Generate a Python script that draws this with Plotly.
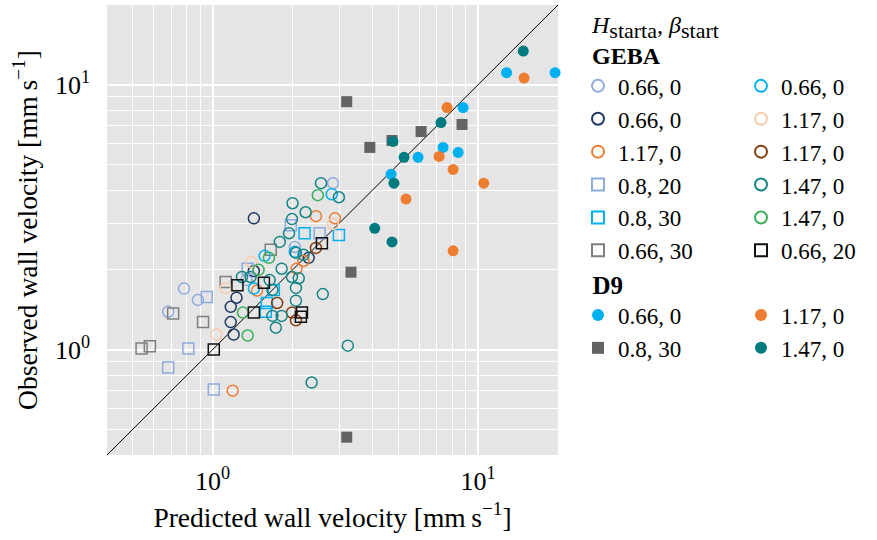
import numpy as np
import plotly.graph_objects as go

FONT = "Liberation Serif"

# ---- GEBA runs (open markers): predicted vs observed wall velocity [mm/s] ----
geba_066_a_x = [0.68, 0.78, 0.88, 1.34, 2.04, 2.84]
geba_066_a_y = [1.39, 1.70, 1.54, 1.83, 2.44, 4.25]

geba_066_b_x = [1.43, 2.30, 1.43, 1.23, 1.17, 1.17, 1.20]
geba_066_b_y = [3.13, 2.22, 1.98, 1.57, 1.45, 1.27, 1.14]

geba_117_a_x = [2.45, 2.89, 2.07, 1.47, 1.19, 2.20]
geba_117_a_y = [3.19, 3.13, 2.02, 1.67, 0.70, 2.16]

geba_08_20_x = [1.97, 2.53, 1.355, 0.95, 0.81, 0.68, 1.01]
geba_08_20_y = [2.95, 2.75, 2.02, 1.58, 1.01, 0.855, 0.707]

geba_08_30_x = [2.22, 2.99, 1.70, 1.60, 1.585]
geba_08_30_y = [2.75, 2.71, 1.68, 1.50, 1.39]

geba_066_30_x = [1.655, 1.12, 0.71, 0.92, 0.54, 0.58]
geba_066_30_y = [2.38, 1.80, 1.37, 1.27, 1.01, 1.03]

geba_066_c_x = [2.81, 1.57, 1.43, 2.04]
geba_066_c_y = [3.86, 2.26, 1.70, 2.34]

geba_117_b_x = [2.84, 1.12, 1.40, 1.035]
geba_117_b_y = [2.98, 1.71, 2.14, 1.14]

geba_117_c_x = [2.45, 1.99, 2.06, 1.75]
geba_117_c_y = [2.42, 1.38, 1.29, 1.50]

geba_147_a_x = [2.56, 2.99, 2.00, 2.24, 1.99, 1.94, 1.79, 2.06, 2.20, 1.82, 1.99, 2.11,
                1.29, 1.39, 1.64, 1.68, 2.06, 2.06, 1.68, 1.82, 1.73, 2.60, 3.23, 2.36]
geba_147_a_y = [4.25, 3.76, 3.57, 3.30, 3.11, 2.75, 2.55, 2.32, 2.28, 2.02, 1.88, 1.86,
                1.88, 1.88, 1.83, 1.68, 1.71, 1.53, 1.34, 1.34, 1.21, 1.62, 1.035, 0.751]

geba_147_b_x = [2.49, 1.63, 1.49, 1.30, 1.355]
geba_147_b_y = [3.83, 2.22, 2.00, 1.38, 1.13]

geba_066_20_x = [2.58, 1.24, 1.56, 1.43, 2.17, 2.15, 1.01]
geba_066_20_y = [2.52, 1.75, 1.79, 1.38, 1.38, 1.33, 1.00]

# ---- D9 runs (filled markers) ----
d9_066_x = [12.8, 19.5, 8.78, 7.38, 8.41, 5.94, 4.70]
d9_066_y = [11.1, 11.1, 8.20, 5.80, 5.55, 5.32, 4.59]

d9_117_x = [14.9, 7.64, 7.13, 8.05, 10.5, 5.35, 8.05]
d9_117_y = [10.6, 8.20, 5.36, 4.79, 4.25, 3.70, 2.36]

d9_08_30_x = [3.20, 8.70, 6.10, 4.74, 3.91, 3.32, 3.20]
d9_08_30_y = [8.63, 7.08, 6.66, 6.16, 5.80, 1.96, 0.467]

d9_147_x = [14.8, 7.25, 4.78, 5.26, 4.82, 4.08, 4.74]
d9_147_y = [13.4, 7.20, 6.11, 5.32, 4.25, 2.87, 2.55]

# axis limits (also used for the 1:1 line) and decade tick labels
axis_lim = [0.4, 20]
tick_vals = [1, 10]
tick_text = ["10<sup>0</sup>", "10<sup>1</sup>"]

fig = go.Figure()

fig.add_trace(go.Scatter(x=axis_lim, y=axis_lim, mode="lines",
                         line=dict(color="black", width=1), showlegend=False,
                         hoverinfo="skip"))


def add_series(x, y, label, symbol, color, legend, rank, filled=False):
    if filled:
        marker = dict(symbol=symbol, color=color, size=11, line=dict(width=0))
    else:
        marker = dict(symbol=symbol + "-open", color=color, size=11, line=dict(width=1.5))
    fig.add_trace(go.Scatter(x=x, y=y, mode="markers", name=label,
                             marker=marker, legend=legend, legendrank=rank,
                             cliponaxis=False))


# GEBA (row-major ranks give the two-column legend layout)
add_series(geba_066_a_x, geba_066_a_y, "0.66, 0", "circle", "#8FAADC", "legend", 1)
add_series(geba_066_b_x, geba_066_b_y, "0.66, 0", "circle", "#1F3864", "legend", 3)
add_series(geba_117_a_x, geba_117_a_y, "1.17, 0", "circle", "#ED7D31", "legend", 5)
add_series(geba_08_20_x, geba_08_20_y, "0.8, 20", "square", "#8FAADC", "legend", 7)
add_series(geba_08_30_x, geba_08_30_y, "0.8, 30", "square", "#00B0F0", "legend", 9)
add_series(geba_066_30_x, geba_066_30_y, "0.66, 30", "square", "#7F7F7F", "legend", 11)
add_series(geba_066_c_x, geba_066_c_y, "0.66, 0", "circle", "#00B0F0", "legend", 2)
add_series(geba_117_b_x, geba_117_b_y, "1.17, 0", "circle", "#F8CBAD", "legend", 4)
add_series(geba_117_c_x, geba_117_c_y, "1.17, 0", "circle", "#843C0C", "legend", 6)
add_series(geba_147_a_x, geba_147_a_y, "1.47, 0", "circle", "#168585", "legend", 8)
add_series(geba_147_b_x, geba_147_b_y, "1.47, 0", "circle", "#3BAF5A", "legend", 10)
add_series(geba_066_20_x, geba_066_20_y, "0.66, 20", "square", "#111111", "legend", 12)

# D9
add_series(d9_066_x, d9_066_y, "0.66, 0", "circle", "#00B0F0", "legend2", 1, True)
add_series(d9_117_x, d9_117_y, "1.17, 0", "circle", "#ED7D31", "legend2", 2, True)
add_series(d9_08_30_x, d9_08_30_y, "0.8, 30", "square", "#636363", "legend2", 3, True)
add_series(d9_147_x, d9_147_y, "1.47, 0", "circle", "#007B80", "legend2", 4, True)

log_range = [float(np.log10(axis_lim[0])), float(np.log10(axis_lim[1]))]
axis_style = dict(
    type="log", range=log_range, tickmode="array", tickvals=tick_vals, ticktext=tick_text,
    showgrid=True, gridcolor="white", gridwidth=1.6, zeroline=False, showline=False,
    ticks="", tickfont=dict(family=FONT, size=26, color="black"),
    minor=dict(dtick="D1", showgrid=True, gridcolor="white", gridwidth=0.9, ticks=""),
)

legend_common = dict(
    orientation="h", xref="container", yref="container", xanchor="left", yanchor="top",
    bgcolor="rgba(0,0,0,0)", borderwidth=0, entrywidth=118, entrywidthmode="pixels",
    font=dict(family=FONT, size=23, color="black"), itemsizing="constant",
    traceorder="normal",
)

IND = "\u2002"  # en space: titles sit a little right of the symbols
title_geba = (IND + "<i>H</i><sub><span style='font-size:22px'>starta</span></sub>, "
              "<i>β</i><sub><span style='font-size:22px'>start</span></sub>"
              "<br>" + IND + "<b>GEBA</b>")

fig.update_layout(
    width=877, height=540, autosize=False,
    margin=dict(l=107, r=319, t=5, b=85, autoexpand=False),
    paper_bgcolor="white", plot_bgcolor="#E5E5E5",
    font=dict(family=FONT, color="black"),
    xaxis=dict(axis_style, ticklabelstandoff=8,
               title=dict(text="Predicted wall velocity [mm\u2009s<sup>\u22121</sup>]",
                          font=dict(family=FONT, size=27.5), standoff=12)),
    yaxis=dict(axis_style, ticklabelstandoff=16,
               title=dict(text="Observed wall velocity [mm\u2009s<sup>\u22121</sup>]",
                          font=dict(family=FONT, size=27.5), standoff=9)),
    legend=dict(legend_common, x=578 / 877, y=1 - 2 / 540,
                title=dict(text=title_geba, side="top",
                           font=dict(family=FONT, size=24))),
    legend2=dict(legend_common, x=578 / 877, y=1 - 261 / 540,
                 title=dict(text=IND + "<b>D9</b>", side="top",
                            font=dict(family=FONT, size=25))),
    showlegend=True,
)

fig.write_html("out.html")
